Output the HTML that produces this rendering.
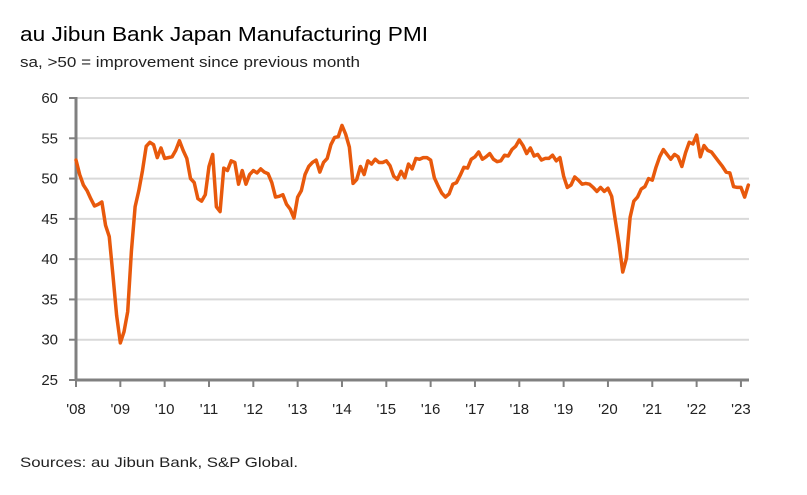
<!DOCTYPE html>
<html><head><meta charset="utf-8"><style>
html,body{margin:0;padding:0;background:#fff;}
svg{display:block;font-family:"Liberation Sans",sans-serif;}
</style></head><body>
<svg id="chart" width="807" height="495" viewBox="0 0 807 495">
<text x="20" y="41" font-size="20" fill="#000" textLength="408" lengthAdjust="spacingAndGlyphs">au Jibun Bank Japan Manufacturing PMI</text>
<text x="20" y="67" font-size="15" fill="#222" textLength="340" lengthAdjust="spacingAndGlyphs">sa, &gt;50 = improvement since previous month</text>
<text x="20" y="467" font-size="14" fill="#222" textLength="278" lengthAdjust="spacingAndGlyphs">Sources: au Jibun Bank, S&amp;P Global.</text>
<g id="grid"></g><g id="axes"></g><g id="series"></g>
</svg>
<script>
const yTicks = [25,30,35,40,45,50,55,60];
const yearLabels = ["'08","'09","'10","'11","'12","'13","'14","'15","'16","'17","'18","'19","'20","'21","'22","'23"];
const startYear = 2008;
const pmi2008 = [52.3,50.5,49.2,48.5,47.5,46.6,46.8,47.1,44.2,42.8,38.0,33.0];
const pmi2009 = [29.6,31.0,33.5,41.0,46.5,48.5,51.0,54.0,54.5,54.2,52.6,53.8];
const pmi2010 = [52.5,52.6,52.7,53.5,54.7,53.5,52.5,50.0,49.5,47.5,47.2,48.0];
const pmi2011 = [51.5,53.0,46.5,45.9,51.3,51.0,52.2,52.0,49.3,51.0,49.3,50.5];
const pmi2012 = [51.0,50.7,51.2,50.8,50.6,49.5,47.7,47.8,48.0,46.8,46.2,45.1];
const pmi2013 = [47.7,48.5,50.5,51.5,52.0,52.3,50.8,52.0,52.5,54.2,55.1,55.2];
const pmi2014 = [56.6,55.5,53.9,49.4,49.9,51.5,50.5,52.2,51.8,52.4,52.0,52.0];
const pmi2015 = [52.2,51.6,50.3,49.9,50.9,50.1,51.8,51.2,52.5,52.4,52.6,52.6];
const pmi2016 = [52.3,50.1,49.1,48.2,47.7,48.1,49.3,49.5,50.4,51.4,51.3,52.4];
const pmi2017 = [52.7,53.3,52.4,52.7,53.1,52.4,52.1,52.2,52.9,52.8,53.6,54.0];
const pmi2018 = [54.8,54.1,53.1,53.8,52.8,53.0,52.3,52.5,52.5,52.9,52.2,52.6];
const pmi2019 = [50.3,48.9,49.2,50.2,49.8,49.3,49.4,49.3,48.9,48.4,48.9,48.4];
const pmi2020 = [48.8,47.8,44.8,41.9,38.4,40.1,45.2,47.2,47.7,48.7,49.0,50.0];
const pmi2021 = [49.8,51.4,52.7,53.6,53.0,52.4,53.0,52.7,51.5,53.2,54.5,54.3];
const pmi2022 = [55.4,52.7,54.1,53.5,53.3,52.7,52.1,51.5,50.8,50.7,49.0,48.9];
const pmi2023 = [48.9,47.7,49.2];

const values = [].concat(pmi2008,pmi2009,pmi2010,pmi2011,pmi2012,pmi2013,pmi2014,pmi2015,pmi2016,pmi2017,pmi2018,pmi2019,pmi2020,pmi2021,pmi2022,pmi2023);
const NS="http://www.w3.org/2000/svg";
const x0=76, yearW=44.33, yBase=380, y60=98;
function xScale(m){return x0 + m*yearW/12;}
function yScale(v){return yBase - (v-25)*(yBase-y60)/35;}
function mk(tag,attrs,parent){const e=document.createElementNS(NS,tag);for(const k in attrs)e.setAttribute(k,attrs[k]);parent.appendChild(e);return e;}
const grid=document.getElementById('grid'), axes=document.getElementById('axes'), series=document.getElementById('series');
yTicks.forEach(t=>{
  const y=yScale(t);
  if(t>25){const g=mk('line',{x1:x0,x2:749,y1:y,y2:y,stroke:'#d9d9d9','stroke-width':2},grid);
  
  }
  const tk=mk('line',{x1:69,x2:x0,y1:y,y2:y,stroke:'#808080','stroke-width':2},axes);
  
  
  const lb=mk('text',{x:58,y:y+5,'text-anchor':'end','font-size':15,fill:'#222'},axes);
  lb.textContent=t;
  
  
});
const ya=mk('line',{x1:x0,x2:x0,y1:y60-1,y2:yBase+1,stroke:'#808080','stroke-width':3},axes);


const xa=mk('line',{x1:x0-1,x2:749,y1:yBase,y2:yBase,stroke:'#808080','stroke-width':3},axes);


yearLabels.forEach((l,i)=>{
  const x=xScale(i*12);
  const tk=mk('line',{x1:x,x2:x,y1:yBase,y2:yBase+7,stroke:'#808080','stroke-width':2},axes);
  
  
  const lb=mk('text',{x:x,y:414,'text-anchor':'middle','font-size':15,fill:'#222'},axes);
  lb.textContent=l;
  
  
});
const d=values.map((v,i)=>(i?'L':'M')+xScale(i).toFixed(2)+','+yScale(v).toFixed(2)).join(' ');
const p=mk('path',{d:d,fill:'none',stroke:'#e8590c','stroke-width':3.5,'stroke-linejoin':'round','stroke-linecap':'round'},series);


</script>
</body></html>
